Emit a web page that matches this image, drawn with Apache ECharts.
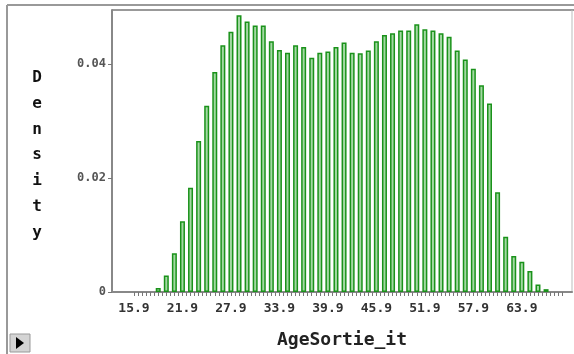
<!DOCTYPE html>
<html>
<head>
<meta charset="utf-8">
<script src="https://cdn.jsdelivr.net/npm/echarts@6/dist/echarts.min.js"></script>
<style>
html,body{margin:0;padding:0;background:#fff;}
#chart{width:574px;height:354px;}
</style>
</head>
<body>
<div id="chart"></div>
<script>
// Bin values (AgeSortie_it)
const bins = [18.9,19.9,20.9,21.9,22.9,23.9,24.9,25.9,26.9,27.9,28.9,29.9,30.9,31.9,32.9,33.9,34.9,35.9,36.9,37.9,38.9,39.9,40.9,41.9,42.9,43.9,44.9,45.9,46.9,47.9,48.9,49.9,50.9,51.9,52.9,53.9,54.9,55.9,56.9,57.9,58.9,59.9,60.9,61.9,62.9,63.9,64.9,65.9,66.9];
// Density per bin
const density = [0.0007,0.0029,0.0068,0.0124,0.0183,0.0265,0.0327,0.0386,0.0433,0.0457,0.0486,0.0475,0.0468,0.0468,0.0440,0.0425,0.0420,0.0433,0.0430,0.0411,0.0420,0.0422,0.0430,0.0438,0.0420,0.0419,0.0424,0.0440,0.0451,0.0454,0.0459,0.0459,0.0470,0.0461,0.0459,0.0454,0.0448,0.0424,0.0408,0.0392,0.0363,0.0331,0.0175,0.0097,0.0063,0.0053,0.0037,0.0013,0.0005];
// Tick labels
const xTickLabels = [15.9,21.9,27.9,33.9,39.9,45.9,51.9,57.9,63.9];
const yTickLabels = [0,0.02,0.04];
const xTitle = 'AgeSortie_it';
const yTitle = 'Density';

const minorTicks = [];
for (let k = 0; k <= 106; k++) minorTicks.push(+(15.9 + k * 0.5).toFixed(2));

const chart = echarts.init(document.getElementById('chart'), null, {renderer: 'canvas'});
chart.setOption({
  animation: false,
  backgroundColor: '#fff',
  grid: {left: 112, right: 2, top: 10, bottom: 61},
  xAxis: {
    type: 'value',
    min: 13.18,
    max: 70.11,
    name: xTitle,
    nameLocation: 'middle',
    nameGap: 39,
    nameTextStyle: {fontFamily: 'DejaVu Sans Mono', fontWeight: 'bold', fontSize: 18, color: '#222'},
    splitLine: {show: false},
    axisLine: {show: true, lineStyle: {color: '#888', width: 2}},
    axisTick: {show: true, customValues: minorTicks, length: 4, lineStyle: {color: '#777', width: 1}},
    axisLabel: {
      customValues: xTickLabels,
      formatter: v => v.toFixed(1),
      margin: 10,
      fontFamily: 'DejaVu Sans Mono', fontWeight: 'bold', fontSize: 13, color: '#333'
    }
  },
  yAxis: {
    type: 'value',
    min: 0,
    max: 0.0495,
    splitLine: {show: false},
    axisLine: {show: true, lineStyle: {color: '#888', width: 2}},
    axisTick: {show: true, customValues: yTickLabels, length: 4, lineStyle: {color: '#777'}},
    axisLabel: {
      customValues: yTickLabels,
      formatter: v => (v === 0 ? '0' : v.toFixed(2)),
      margin: 6,
      fontFamily: 'DejaVu Sans Mono', fontWeight: 'bold', fontSize: 12, color: '#555'
    }
  },
  series: [{
    type: 'bar',
    data: bins.map((b, i) => [b, density[i]]),
    barWidth: 5,
    itemStyle: {color: '#a3d8a3', borderColor: '#1a921a', borderWidth: 1.5}
  }],
  graphic: [
    {type: 'line', shape: {x1: 7, y1: 5, x2: 574, y2: 5}, style: {stroke: '#999', lineWidth: 2}, silent: true},
    {type: 'line', shape: {x1: 7, y1: 5, x2: 7, y2: 354}, style: {stroke: '#999', lineWidth: 2}, silent: true},
    {type: 'line', shape: {x1: 112, y1: 10, x2: 574, y2: 10}, style: {stroke: '#999', lineWidth: 2}, silent: true},
    {type: 'line', shape: {x1: 572, y1: 10, x2: 572, y2: 293}, style: {stroke: '#bbb', lineWidth: 1}, silent: true},
    {type: 'rect', shape: {x: 10, y: 334, width: 20, height: 18}, style: {fill: '#d4d4d4', stroke: '#999', lineWidth: 1}, silent: true},
    {type: 'polygon', shape: {points: [[16, 337], [16, 349], [24, 343]]}, style: {fill: '#000'}, silent: true},
    {
      type: 'text', x: 37, y: 65,
      style: {
        text: yTitle.split('').join('\n'),
        align: 'center', verticalAlign: 'top',
        lineHeight: 25.8,
        font: 'bold 16px "DejaVu Sans Mono"',
        fill: '#111'
      },
      silent: true
    }
  ]
});
</script>
</body>
</html>
